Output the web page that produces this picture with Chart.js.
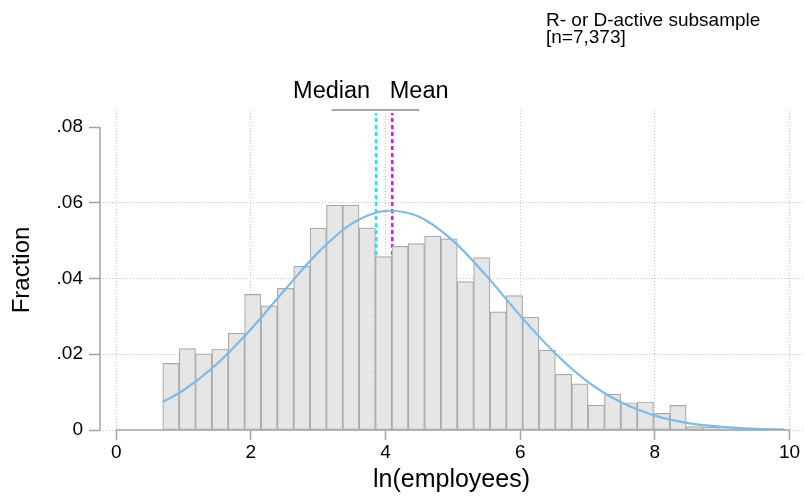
<!DOCTYPE html>
<html>
<head>
<meta charset="utf-8">
<title>ln(employees) histogram</title>
<script src="https://cdn.jsdelivr.net/npm/chart.js@4.4.1/dist/chart.umd.min.js"></script>
<style>
  html, body { margin: 0; padding: 0; background: #ffffff; }
  #wrap { width: 805px; height: 503px; position: relative; }
</style>
</head>
<body>
<div id="wrap"><canvas id="chart"></canvas></div>
<script>
// Histogram bins of ln(employees): bin centres (bin width ≈ 0.243, first edge ln 2)
const binCenters = [
  0.814, 1.057, 1.300, 1.543, 1.786, 2.029, 2.272, 2.515, 2.758, 3.001,
  3.244, 3.486, 3.729, 3.972, 4.215, 4.458, 4.701, 4.944, 5.187, 5.430,
  5.673, 5.915, 6.158, 6.401, 6.644, 6.887, 7.130, 7.373, 7.616, 7.859,
  8.102, 8.344, 8.587, 8.830, 9.073, 9.316, 9.559, 9.802
];
// Fraction of firms in each bin
const binFractions = [
  0.0176, 0.0215, 0.0201, 0.0214, 0.0256, 0.0358, 0.0328, 0.0374, 0.0432, 0.0533,
  0.0594, 0.0594, 0.0534, 0.0458, 0.0485, 0.0492, 0.0512, 0.0505, 0.0392, 0.0455,
  0.0312, 0.0355, 0.0298, 0.0211, 0.0147, 0.0122, 0.0066, 0.0095, 0.0072, 0.0074,
  0.0044, 0.0065, 0.0009, 0.0007, 0.0004, 0.0003, 0.0002, 0.0003
];
// Normal density overlay (scaled to fraction per bin)
const curveX = [0.69, 1.0, 1.5, 2.0, 2.5, 3.0, 3.5, 4.05, 4.5, 5.0, 5.5, 6.0, 6.5, 7.0, 7.5, 8.0, 8.5, 9.0, 9.5, 9.92];
const curveY = [0.0074, 0.0105, 0.0175, 0.0266, 0.0369, 0.0469, 0.0545, 0.0579, 0.0563, 0.0500,
                0.0407, 0.0302, 0.0206, 0.0128, 0.0073, 0.0038, 0.0018, 0.0008, 0.0003, 0.0001];
// Summary statistics
const medianValue = 3.86;
const meanValue = 4.10;
const markerBarX = [3.2, 4.5];
const markerLabels = ['Median', 'Mean'];
const noteLines = ['R- or D-active subsample', '[n=7,373]'];
// Highest labelled y tick
const yTickMax = 0.08;

const FONT = '"Liberation Sans", Arial, Helvetica, sans-serif';
const GRID = '#c4c4c4';
const AXIS = '#a4a4a4';
const Y_MAX = 0.0845;

Chart.defaults.font.family = FONT;
Chart.defaults.color = '#000000';

const bars = binCenters.map((c, i) => ({ x: c, y: binFractions[i] }));
const curve = curveX.map((c, i) => ({ x: c, y: curveY[i] }));

const stataDecor = {
  id: 'stataDecor',
  afterDatasetsDraw(chart) {
    const { ctx, chartArea, scales: { x, y } } = chart;
    ctx.save();
    ctx.strokeStyle = AXIS;
    ctx.lineWidth = 1.5;
    ctx.setLineDash([]);
    ctx.beginPath();
    // y axis spans 0 .. .08
    ctx.moveTo(chartArea.left, y.getPixelForValue(0));
    ctx.lineTo(chartArea.left, y.getPixelForValue(yTickMax));
    // x axis spans 0 .. 10
    ctx.moveTo(x.getPixelForValue(0), y.getPixelForValue(0));
    ctx.lineTo(x.getPixelForValue(10), y.getPixelForValue(0));
    ctx.stroke();
    ctx.restore();
  },
  afterDraw(chart) {
    const { ctx, scales: { x } } = chart;
    ctx.save();
    ctx.fillStyle = '#000000';
    ctx.textBaseline = 'alphabetic';
    ctx.textAlign = 'center';
    ctx.font = '23.5px ' + FONT;
    markerLabels.forEach((t, i) => {
      ctx.fillText(t, x.getPixelForValue(markerBarX[i]), 98);
    });
    ctx.textAlign = 'left';
    ctx.font = '19px ' + FONT;
    ctx.fillText(noteLines[0], 546, 26);
    ctx.fillText(noteLines[1], 546, 43);
    ctx.restore();
  }
};

new Chart(document.getElementById('chart'), {
  type: 'bar',
  data: {
    datasets: [
      {
        type: 'line',
        label: 'Normal density',
        data: curve,
        borderColor: 'rgb(124,186,232)',
        borderWidth: 2.2,
        pointRadius: 0,
        cubicInterpolationMode: 'monotone',
        fill: false,
        order: 0
      },
      {
        type: 'bar',
        label: 'Fraction',
        data: bars,
        backgroundColor: '#e6e6e6',
        borderColor: '#a9a9a9',
        borderWidth: 1.2,
        borderSkipped: false,
        barPercentage: 1,
        categoryPercentage: 1,
        order: 1
      },
      {
        type: 'line',
        label: 'Median',
        data: [{ x: medianValue, y: 0 }, { x: medianValue, y: 0.0837 }],
        borderColor: '#00f0ff',
        borderWidth: 2.5,
        borderDash: [4, 3],
        pointRadius: 0,
        order: 2
      },
      {
        type: 'line',
        label: 'Mean',
        data: [{ x: meanValue, y: 0 }, { x: meanValue, y: 0.0837 }],
        borderColor: '#ff00ff',
        borderWidth: 2.5,
        borderDash: [4, 3],
        pointRadius: 0,
        order: 3
      },
      {
        type: 'line',
        label: 'bar',
        data: [{ x: markerBarX[0], y: Y_MAX }, { x: markerBarX[1], y: Y_MAX }],
        borderColor: '#a8a8a8',
        borderWidth: 2,
        pointRadius: 0,
        clip: false,
        order: 4
      }
    ]
  },
  options: {
    responsive: true,
    maintainAspectRatio: false,
    animation: false,
    events: [],
    layout: { padding: { top: 110, right: 2, left: 0, bottom: 0 } },
    plugins: {
      legend: { display: false },
      tooltip: { enabled: false }
    },
    scales: {
      x: {
        type: 'linear',
        min: -0.24,
        max: 10.2,
        offset: false,
        afterFit: s => { s.height = 73; },
        grid: {
          offset: false,
          color: GRID,
          lineWidth: 1,
          drawTicks: true,
          tickLength: 10,
          tickColor: AXIS,
          tickWidth: 1.5,
          tickBorderDash: []
        },
        border: { display: false, dash: [1, 2] },
        ticks: {
          stepSize: 2,
          includeBounds: false,
          padding: 1,
          maxRotation: 0,
          font: { size: 19 },
          color: '#000000'
        },
        title: {
          display: true,
          text: 'ln(employees)',
          font: { size: 25 },
          color: '#000000',
          padding: { top: 0, bottom: 8 }
        }
      },
      y: {
        type: 'linear',
        min: 0,
        max: Y_MAX,
        afterFit: s => { s.width = 100; },
        grid: {
          color: c => (c.tick && Math.abs(c.tick.value - yTickMax) < 1e-9) ? 'rgba(0,0,0,0)' : GRID,
          lineWidth: 1,
          drawTicks: true,
          tickLength: 11,
          tickColor: AXIS,
          tickWidth: 1.5,
          tickBorderDash: []
        },
        border: { display: false, dash: [1, 2] },
        ticks: {
          stepSize: 0.02,
          includeBounds: false,
          padding: 6,
          font: { size: 19 },
          color: '#000000',
          callback: v => (v === 0 ? '0' : v.toFixed(2).replace(/^0/, ''))
        },
        title: {
          display: true,
          text: 'Fraction',
          font: { size: 24 },
          color: '#000000',
          padding: { top: 8, bottom: 0 }
        }
      }
    }
  },
  plugins: [stataDecor]
});
</script>
</body>
</html>
